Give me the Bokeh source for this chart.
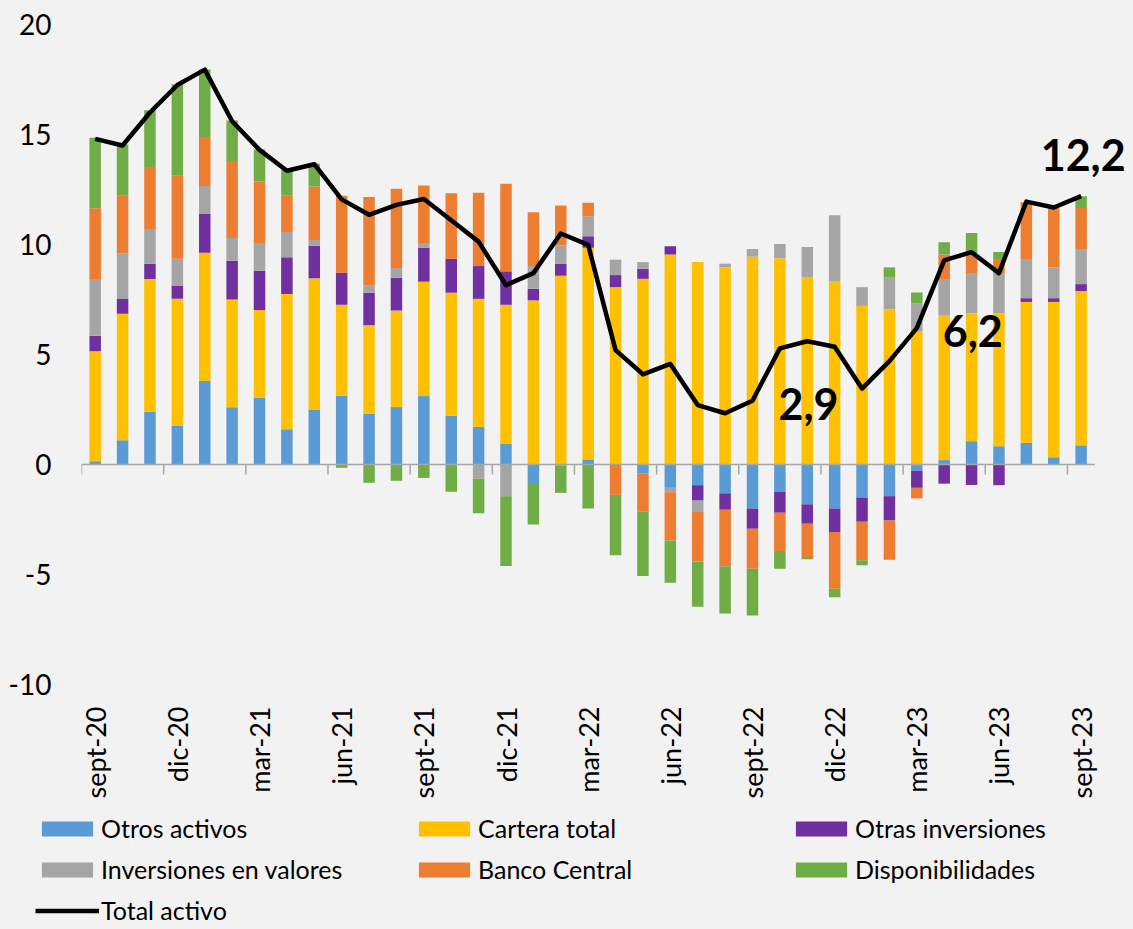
import math
from bokeh.plotting import figure
from bokeh.layouts import column
from bokeh.models import (Range1d, FixedTicker, ColumnDataSource, Legend, LegendItem,
                          LabelSet)
from bokeh.core.properties import value
from bokeh.embed import file_html
from bokeh.resources import INLINE

months = ["sept-20", "oct-20", "nov-20", "dic-20", "ene-21", "feb-21", "mar-21", "abr-21",
          "may-21", "jun-21", "jul-21", "ago-21", "sept-21", "oct-21", "nov-21", "dic-21",
          "ene-22", "feb-22", "mar-22", "abr-22", "may-22", "jun-22", "jul-22", "ago-22",
          "sept-22", "oct-22", "nov-22", "dic-22", "ene-23", "feb-23", "mar-23", "abr-23",
          "may-23", "jun-23", "jul-23", "ago-23", "sept-23"]

otros_activos = [0.15, 1.10, 2.40, 1.75, 3.80, 2.60, 3.04, 1.60, 2.50, 3.12, 2.31, 2.61, 3.11,
                 2.22, 1.72, 0.93, -0.84, -0.05, 0.23, -0.07, -0.42, -1.06, -0.94, -1.31,
                 -2.00, -1.24, -1.81, -2.00, -1.50, -1.44, -0.28, 0.20, 1.06, 0.83, 0.99,
                 0.33, 0.87]
cartera_total = [5.00, 5.75, 6.03, 5.78, 5.83, 4.90, 3.98, 6.15, 5.96, 4.14, 4.02, 4.39, 5.20,
                 5.59, 5.81, 6.33, 7.46, 8.58, 9.62, 8.06, 8.44, 9.54, 9.20, 8.97, 9.45,
                 9.38, 8.52, 8.32, 7.21, 7.06, 6.07, 6.59, 5.82, 6.05, 6.40, 7.06, 7.01]
otras_inversiones = [0.70, 0.67, 0.70, 0.61, 1.76, 1.76, 1.79, 1.67, 1.48, 1.46, 1.48, 1.49,
                     1.54, 1.54, 1.49, 1.52, 0.53, 0.55, 0.52, 0.55, 0.46, 0.38, -0.70, -0.75,
                     -0.92, -0.95, -0.88, -1.07, -1.10, -1.11, -0.78, -0.87, -0.93, -0.94,
                     0.17, 0.17, 0.32]
inversiones_valores = [2.58, 2.08, 1.58, 1.21, 1.27, 1.04, 1.26, 1.15, 0.26, 0.00, 0.31, 0.44,
                       0.22, 0.00, -0.64, -1.44, 1.03, 0.82, 0.91, 0.70, 0.30, -0.20, -0.49,
                       0.16, 0.35, 0.64, 1.37, 3.01, 0.85, 1.46, 1.25, 1.64, 1.79, 1.79, 1.78,
                       1.40, 1.60]
banco_central = [3.22, 2.62, 2.81, 3.80, 2.23, 3.49, 2.79, 1.65, 2.44, 3.50, 4.04, 3.60, 2.61,
                 2.98, 3.33, 3.98, 2.45, 1.82, 0.62, -1.31, -1.71, -2.19, -2.28, -2.56, -1.82,
                 -1.74, -1.52, -2.58, -1.75, -1.78, -0.48, 1.11, 0.87, 0.67, 2.58, 2.70, 1.86]
disponibilidades = [3.20, 2.32, 2.58, 4.13, 3.07, 1.85, 1.46, 1.18, 1.03, -0.15, -0.83, -0.74,
                    -0.61, -1.24, -1.58, -3.17, -1.89, -1.24, -2.00, -2.75, -2.94, -1.93, -2.06,
                    -2.15, -2.12, -0.81, -0.10, -0.38, -0.23, 0.44, 0.50, 0.56, 0.98, 0.32, 0.00,
                    0.00, 0.53]
total_activo = [14.80, 14.50, 16.00, 17.25, 17.95, 15.60, 14.30, 13.35, 13.65, 12.05, 11.35,
                11.80, 12.07, 11.10, 10.13, 8.15, 8.70, 10.50, 9.98, 5.20, 4.10, 4.57, 2.70,
                2.33, 2.90, 5.28, 5.60, 5.35, 3.45, 4.70, 6.20, 9.28, 9.65, 8.70, 11.95, 11.68,
                12.20]

series_names = ["Otros activos", "Cartera total", "Otras inversiones",
                "Inversiones en valores", "Banco Central", "Disponibilidades"]
series_colors = ["#5B9BD5", "#FFC000", "#7030A0", "#A5A5A5", "#ED7D31", "#70AD47"]
series_values = [otros_activos, cartera_total, otras_inversiones, inversiones_valores,
                 banco_central, disponibilidades]
line_name = "Total activo"
y_ticks = [-10, -5, 0, 5, 10, 15, 20]

annot_idx = [24, 30, 36]
annot_text = ["2,9", "6,2", "12,2"]
annot_dx = [56, 56, 2]
annot_dy = [-19, -19, 25]

n = len(months)
idx = list(range(n))
label_step = 3
FONT = "Lato"
BG = "#F2F2F2"
AXIS_GRAY = "#A6A6A6"

# main chart -----------------------------------------------------------------
p = figure(width=1125, height=811, x_range=Range1d(-0.5, 37.62), y_range=Range1d(-10, 20),
           output_backend="svg", toolbar_location=None,
           background_fill_color=BG, border_fill_color=BG,
           outline_line_color=None, min_border_left=81, min_border_top=24,
           min_border_right=0, min_border_bottom=127)
p.xgrid.grid_line_color = None
p.ygrid.grid_line_color = None

pos = [0.0] * n
neg = [0.0] * n
for name, vals, color in zip(series_names, series_values, series_colors):
    bottoms, tops = [], []
    for i, v in enumerate(vals):
        if v >= 0:
            b = pos[i]; t = b + v; pos[i] = t
        else:
            b = neg[i]; t = b + v; neg[i] = t
        bottoms.append(b); tops.append(t)
    src = ColumnDataSource(dict(x=idx, bottom=bottoms, top=tops))
    p.vbar(x="x", bottom="bottom", top="top", width=0.42, source=src,
           fill_color=color, line_color=None)

# category axis drawn at y = 0, with tick marks every 3 categories
p.segment(x0=[-0.5], y0=[0], x1=[n - 0.5], y1=[0], line_color=AXIS_GRAY, line_width=1.5)
tick_bounds = [i - 0.5 for i in range(0, n, label_step)]
p.ray(x=tick_bounds, y=[0] * len(tick_bounds), length=10, length_units="screen",
      angle=-math.pi / 2, line_color=AXIS_GRAY, line_width=1.5)

p.line(x=idx, y=total_activo, line_color="black", line_width=4.5, line_join="round")

asrc = ColumnDataSource(dict(x=annot_idx, y=[total_activo[i] for i in annot_idx],
                             text=annot_text, dx=annot_dx, dy=annot_dy))
p.add_layout(LabelSet(x="x", y="y", text="text", x_offset="dx", y_offset="dy", source=asrc,
                      text_align="center", text_baseline="alphabetic",
                      text_font=value(FONT), text_font_style="bold", text_font_size="43px",
                      text_color="black"))

p.yaxis.ticker = FixedTicker(ticks=y_ticks)
p.yaxis.major_label_overrides = {t: str(t) for t in y_ticks}
p.yaxis.axis_line_color = None
p.yaxis.major_tick_line_color = None
p.yaxis.major_tick_out = 0
p.yaxis.major_tick_in = 0
p.yaxis.minor_tick_line_color = None
p.yaxis.major_label_standoff = 30
p.yaxis.major_label_text_font = FONT
p.yaxis.major_label_text_font_size = "28px"
p.yaxis.major_label_text_color = "black"

tick_pos = list(range(0, n, label_step))
p.xaxis.ticker = FixedTicker(ticks=tick_pos)
p.xaxis.major_label_overrides = {i: months[i] for i in tick_pos}
p.xaxis.major_label_orientation = math.pi / 2
p.xaxis.axis_line_color = None
p.xaxis.major_tick_line_color = None
p.xaxis.major_tick_out = 0
p.xaxis.major_tick_in = 0
p.xaxis.minor_tick_line_color = None
p.xaxis.major_label_standoff = 22
p.xaxis.major_label_text_font = FONT
p.xaxis.major_label_text_font_size = "27px"
p.xaxis.major_label_text_color = "black"

# legend panel ----------------------------------------------------------------
pl = figure(width=1125, height=114, x_range=Range1d(0, 1), y_range=Range1d(0, 1),
            output_backend="svg", toolbar_location=None,
            x_axis_location=None, y_axis_location=None,
            background_fill_color=BG, border_fill_color=BG, outline_line_color=None,
            min_border=0)
pl.xgrid.grid_line_color = None
pl.ygrid.grid_line_color = None
for fig in (p, pl):
    try:
        fig.frame_align = False
    except Exception:
        pass

items = []
for name, color in zip(series_names, series_colors):
    r = pl.vbar(x=[0.5], bottom=[0.5], top=[0.5], width=0.01, fill_color=color,
                line_color=None)
    items.append(LegendItem(label=name, renderers=[r]))
lr = pl.line(x=[0.5], y=[0.5], line_color="black", line_width=4.5)
items.append(LegendItem(label=line_name, renderers=[lr]))
legend = Legend(items=items, orientation="horizontal", ncols=3,
                label_text_font=FONT, label_text_font_size="25px", label_text_color="black",
                glyph_width=64, glyph_height=19, label_standoff=2, label_width=300,
                spacing=11, padding=0, margin=0, border_line_color=None,
                background_fill_alpha=0, location=(35, 0))
pl.add_layout(legend, "center")

layout = column(p, pl, spacing=0)
html = file_html(layout, INLINE)
html = html.replace("<body>", '<body style="background-color:#F2F2F2;">')
open("out.html", "w").write(html)
